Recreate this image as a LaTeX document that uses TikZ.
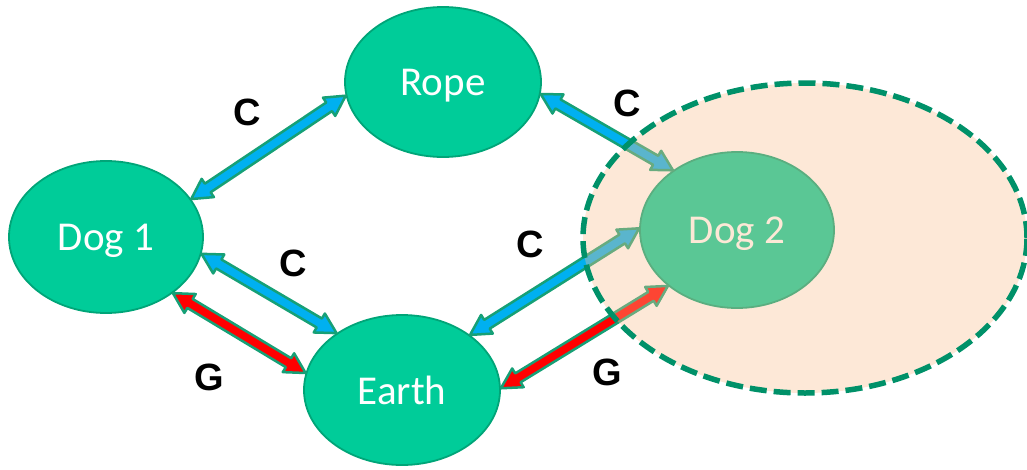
\documentclass[tikz,border=0pt]{standalone}
\usepackage{fontspec}
\setmainfont{Carlito}
\newfontfamily\labelfont{Liberation Sans}
\usetikzlibrary{shapes.geometric,calc}

\definecolor{bodyfill}{RGB}{0,204,153}
\definecolor{bodyedge}{RGB}{0,165,120}
\definecolor{arrowedge}{RGB}{22,160,118}
\definecolor{contactblue}{RGB}{0,176,240}
\definecolor{gravred}{RGB}{255,0,0}
\definecolor{zonefill}{RGB}{250,192,143}
\definecolor{zoneedge}{RGB}{0,145,105}

\tikzset{
  body/.style={ellipse, draw=bodyedge, line width=1.8pt, fill=bodyfill,
    inner sep=0pt, text depth=0pt, text=white, font=\fontsize{41}{48}\selectfont},
  arrowbody/.style={draw=arrowedge, line width=2.5pt, line join=round},
  forcelabel/.style={font=\labelfont\bfseries\fontsize{38}{44}\selectfont, text=black},
  zone/.style={ellipse, draw=zoneedge, line width=5.5pt, dash pattern=on 17pt off 7pt,
    fill=zonefill, fill opacity=0.36, draw opacity=1, inner sep=0pt}
}

% double-headed block arrow between two points
\newcommand\blockarrow[3]{%
  \path ($(#1)!20pt!(#2)$) coordinate (ba-a) ($(#2)!20pt!(#1)$) coordinate (ba-b);
  \filldraw[arrowbody, fill=#3]
    (#1) -- ($(ba-a)!11pt!90:(#2)$) -- ($(ba-a)!5.2pt!90:(#2)$)
    -- ($(ba-b)!5.2pt!-90:(#1)$) -- ($(ba-b)!11pt!-90:(#1)$) -- (#2)
    -- ($(ba-b)!11pt!90:(#1)$) -- ($(ba-b)!5.2pt!90:(#1)$)
    -- ($(ba-a)!5.2pt!-90:(#2)$) -- ($(ba-a)!11pt!-90:(#2)$) -- cycle;
}

\begin{document}
\begin{tikzpicture}[x=1pt,y=-1pt]
\useasboundingbox (0,0) rectangle (1027,469);

% bodies
\node[body, minimum width=196pt, minimum height=150pt] (rope)  at (443,82)  {Rope};
\node[body, minimum width=194pt, minimum height=152pt] (dog1)  at (106,237) {Dog 1};
\node[body, minimum width=196pt, minimum height=150pt] (earth) at (402,390) {Earth};
\node[body, minimum width=194pt, minimum height=156pt] (dog2)  at (737,230) {Dog 2};

% interaction arrows
\blockarrow{dog1.24}{rope.188}{contactblue}
\blockarrow{rope.353}{dog2.137}{contactblue}
\blockarrow{dog1.350}{earth.139}{contactblue}
\blockarrow{dog1.320}{earth.170}{gravred}
\blockarrow{earth.39}{dog2.179}{contactblue}
\blockarrow{earth.1}{dog2.219}{gravred}

% force labels
\node[forcelabel] (c1) at (247,112) {C};
\node[forcelabel] (c2) at (627,103) {C};
\node[forcelabel] (c3) at (293,263) {C};
\node[forcelabel] (c4) at (530,244) {C};
\node[forcelabel] (g1) at (209,377) {G};
\node[forcelabel] (g2) at (607,372) {G};

% system boundary around Dog 2
\node[zone, minimum width=444pt, minimum height=310pt] (system) at (805,238) {};
\end{tikzpicture}
\end{document}
